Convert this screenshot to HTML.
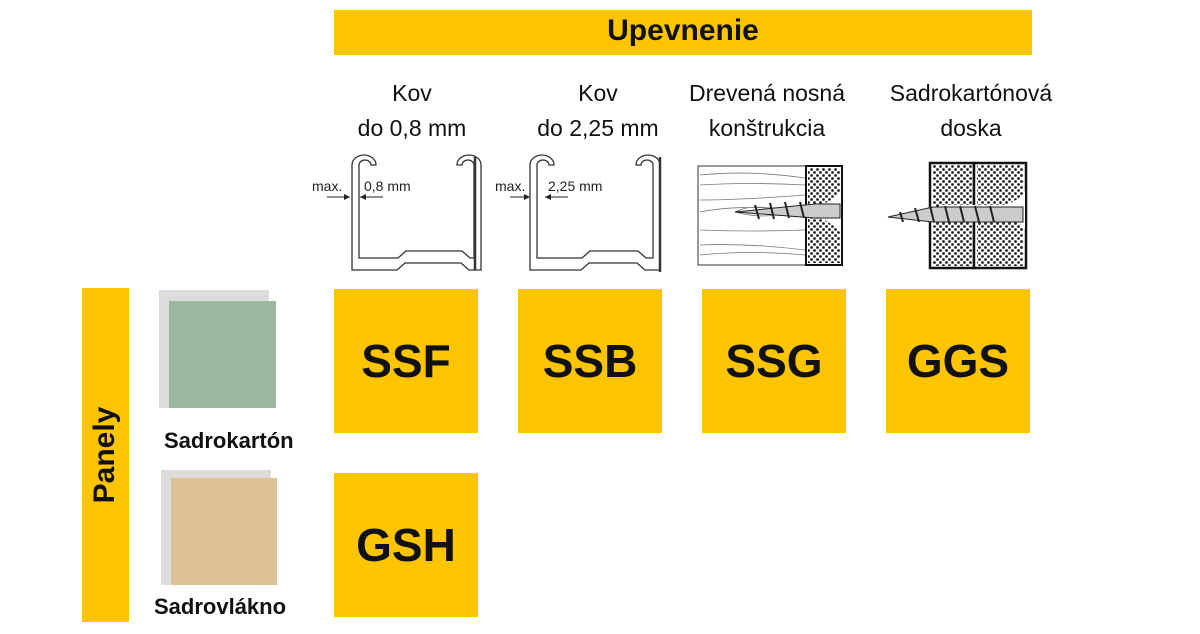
<!DOCTYPE html>
<html><head><meta charset="utf-8"><style>
body{margin:0;width:1200px;height:634px;background:#fff;position:relative;overflow:hidden;font-family:"Liberation Sans",Arial,sans-serif}
.a{position:absolute}
.y{background:#fdc400}
.box{position:absolute;width:144px;height:144px;background:#fdc400;display:flex;align-items:center;justify-content:center;font-weight:bold;font-size:46px;color:#111}
.h{position:absolute;text-align:center;font-size:23px;line-height:35px;color:#111;width:220px}
.l{position:absolute;font-weight:bold;font-size:22px;color:#111}
</style></head><body>
<div class="a y" style="left:334px;top:10px;width:698px;height:45px;text-align:center;font-weight:bold;font-size:30px;line-height:42px;color:#111">Upevnenie</div>
<div class="a y" style="left:82px;top:288px;width:47px;height:334px"></div>
<div class="a" style="left:105px;top:455px;transform:translate(-50%,-50%) rotate(-90deg);font-weight:bold;font-size:30px;color:#111;white-space:nowrap">Panely</div>

<div class="h" style="left:302px;top:76px">Kov<br>do 0,8 mm</div>
<div class="h" style="left:488px;top:76px">Kov<br>do 2,25 mm</div>
<div class="h" style="left:657px;top:76px">Drevená nosná<br>konštrukcia</div>
<div class="h" style="left:861px;top:76px">Sadrokartónová<br>doska</div>

<svg class="a" style="left:0;top:0" width="1200" height="634">
<defs><marker id="ar" markerWidth="6" markerHeight="6" refX="6" refY="3" orient="auto"><path d="M0 0 L6 3 L0 6z" fill="#222"/></marker></defs>
<g fill="none" stroke="#333" stroke-width="1.3">
<path d="M352 270 V165 a12 10 0 0 1 24 0 h-5 a6 5 0 0 0 -12 0 V258 h39 l8 -7 h56 l8 7 h4 V165 a6 5 0 0 0 -12 0 h-5 a12 10 0 0 1 24 0 V270 h-12 l-8 -7 h-56 l-8 7 z"/>
<line x1="475" y1="157" x2="475" y2="270" stroke-width="2.5"/>
<path d="M530 270 V165 a12 10 0 0 1 24 0 h-5 a6 5 0 0 0 -12 0 V258 h45 l8 -7 h48 l8 7 h7 V165 a6 5 0 0 0 -12 0 h-5 a12 10 0 0 1 24 0 V270 h-15 l-8 -7 h-48 l-8 7 z"/>
<line x1="660" y1="157" x2="660" y2="272" stroke-width="2.5"/>
</g>
<g font-family="Liberation Sans,sans-serif" font-size="14" fill="#222">
<text x="312" y="191">max.</text><text x="364" y="191">0,8 mm</text>
<text x="495" y="191">max.</text><text x="548" y="191">2,25 mm</text>
</g>
<g stroke="#222" stroke-width="1"><line x1="327" y1="197" x2="350" y2="197" marker-end="url(#ar)"/><line x1="383" y1="197" x2="360" y2="197" marker-end="url(#ar)"/>
<line x1="510" y1="197" x2="530" y2="197" marker-end="url(#ar)"/><line x1="568" y1="197" x2="545" y2="197" marker-end="url(#ar)"/></g>
<rect x="698" y="166" width="108" height="99" fill="#fff" stroke="#333"/>
<g fill="none" stroke="#777" stroke-width="0.8">
<path d="M700 175 q50 -5 105 3 M700 185 q50 -3 105 0 M700 200 q40 0 105 -5 M700 212 q40 -8 100 -2 M700 230 q50 2 105 0 M700 245 q50 -2 105 5 M700 255 q50 -5 105 0 M735 212 q20 -10 50 0 q-20 8 -50 0"/>
</g>
<rect x="806" y="166" width="36" height="99" fill="#fff" stroke="#111" stroke-width="2"/>
<rect x="930" y="163" width="44" height="105" fill="#fff" stroke="#111" stroke-width="2.5"/>
<rect x="974" y="163" width="52" height="105" fill="#fff" stroke="#111" stroke-width="2.5"/>
<pattern id="d" width="6" height="6" patternUnits="userSpaceOnUse"><circle cx="1.5" cy="1.5" r="1.4" fill="#222"/><circle cx="4.5" cy="4.5" r="1.4" fill="#222"/></pattern>
<rect x="808" y="168" width="32" height="95" fill="url(#d)"/>
<rect x="933" y="165" width="39" height="101" fill="url(#d)"/>
<rect x="977" y="165" width="46" height="101" fill="url(#d)"/>
<g fill="#fff"><path d="M813 207 q20 -5 27 -15 v40 q-8 -10 -27 -17z"/><path d="M940 205 h65 q15 -5 20 -14 v38 q-5 -8 -20 -13 h-65z"/></g>
<g fill="#ccc" stroke="#222"><path d="M735 212 l80 -8 h25 v14 h-25 z"/><path d="M888 217 l45 -10 h90 v15 h-90 z"/></g>
<g stroke="#222" stroke-width="2"><path d="M755 205 l4 14 M770 203 l4 16 M785 202 l4 16 M800 202 l4 16 M900 212 l3 10 M915 208 l4 14 M930 206 l4 16 M945 206 l4 16 M960 206 l4 16 M975 206 l4 16 M990 206 l4 16"/></g>
<rect x="159" y="290" width="110" height="118" fill="#dcdcdc"/><rect x="169" y="301" width="107" height="107" fill="#9cb8a0"/>
<rect x="161" y="470" width="110" height="115" fill="#dcdcdc"/><rect x="171" y="478" width="106" height="107" fill="#dcc295"/>
</svg>

<div class="l" style="left:164px;top:428px">Sadrokartón</div>
<div class="l" style="left:154px;top:594px">Sadrovlákno</div>

<div class="box" style="left:334px;top:289px">SSF</div>
<div class="box" style="left:518px;top:289px">SSB</div>
<div class="box" style="left:702px;top:289px">SSG</div>
<div class="box" style="left:886px;top:289px">GGS</div>
<div class="box" style="left:334px;top:473px">GSH</div>
</body></html>
